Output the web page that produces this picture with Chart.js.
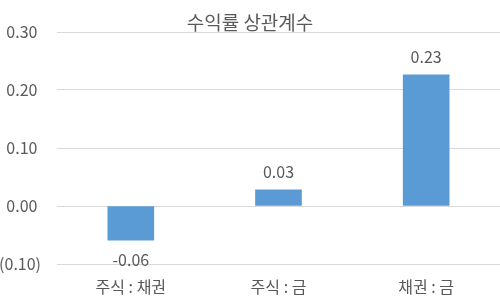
<!DOCTYPE html>
<html>
<head>
<meta charset="utf-8">
<script src="https://cdn.jsdelivr.net/npm/chart.js@4"></script>
<style>
  html, body { margin: 0; padding: 0; background: #fff; }
  #wrap { width: 500px; height: 300px; }
</style>
</head>
<body>
<div id="wrap"><canvas id="myChart"></canvas></div>
<script>
// chart data
var categories = ["주식 : 채권", "주식 : 금", "채권 : 금"];
var correlations = [-0.059, 0.028, 0.226];
var valueLabels = ["-0.06", "0.03", "0.23"];
var chartTitle = "수익률 상관계수";

var FONT = "'Noto Sans CJK KR', 'Noto Sans', sans-serif";
var TEXT = "#595959";

// draws the value above / below each bar
var barLabels = {
  id: "barLabels",
  afterDatasetsDraw: function (chart) {
    var ctx = chart.ctx;
    var meta = chart.getDatasetMeta(0);
    ctx.save();
    ctx.font = "16px " + FONT;
    ctx.fillStyle = TEXT;
    ctx.textAlign = "center";
    ctx.textBaseline = "middle";
    meta.data.forEach(function (bar, i) {
      var v = correlations[i];
      var y = v >= 0 ? bar.y - 18 : bar.y + 20;
      ctx.fillText(valueLabels[i], bar.x, y);
    });
    ctx.restore();
  }
};

new Chart(document.getElementById("myChart"), {
  type: "bar",
  data: {
    labels: categories,
    datasets: [{
      data: correlations,
      backgroundColor: "#5B9BD5",
      borderWidth: 0,
      barThickness: 46
    }]
  },
  options: {
    responsive: true,
    maintainAspectRatio: false,
    animation: false,
    layout: { padding: 0 },
    plugins: {
      legend: { display: false },
      tooltip: { enabled: false },
      title: {
        display: true,
        text: chartTitle,
        color: TEXT,
        font: { family: FONT, size: 19, weight: "normal", lineHeight: 1.0 },
        padding: { top: 13, bottom: 0 }
      }
    },
    scales: {
      x: {
        afterFit: function (scale) { scale.height = 36; },
        grid: { display: false, drawTicks: false },
        border: { display: false },
        ticks: { color: TEXT, font: { family: FONT, size: 16 }, padding: 13 }
      },
      y: {
        min: -0.1,
        max: 0.3,
        afterFit: function (scale) { scale.width = 57; },
        grid: { color: "#D9D9D9", drawTicks: false },
        border: { display: false },
        ticks: {
          stepSize: 0.1,
          color: TEXT,
          padding: 16,
          font: { family: FONT, size: 16 },
          callback: function (v) {
            var n = Math.round(v * 100) / 100;
            if (n < 0) return "(" + Math.abs(n).toFixed(2) + ")";
            return n.toFixed(2) + " ";
          }
        }
      }
    }
  },
  plugins: [barLabels]
});
</script>
</body>
</html>
